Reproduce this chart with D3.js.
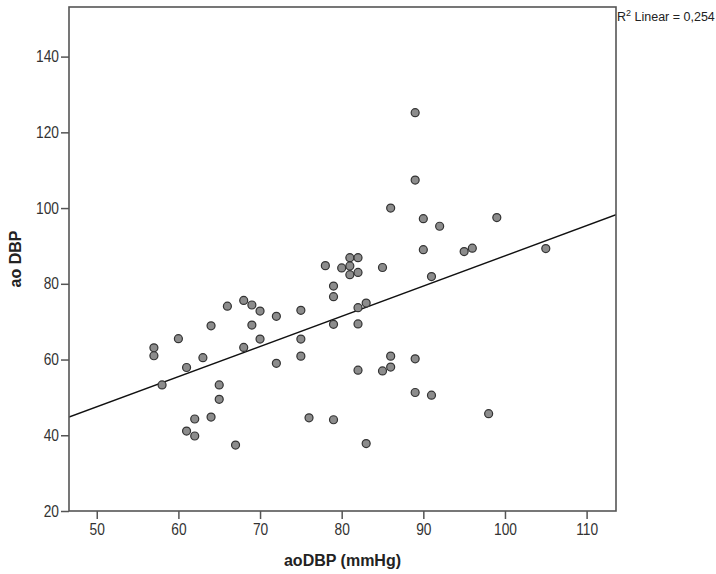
<!DOCTYPE html>
<html>
<head>
<meta charset="utf-8">
<script src="https://cdn.jsdelivr.net/npm/d3@7"></script>
<style>
  body { margin: 0; background: #fff; }
  .tick text { font-family: "Liberation Sans", Arial, sans-serif; font-size: 16px; fill: #333; }
  .tick line { stroke: #555; stroke-width: 1.5; }
</style>
</head>
<body>
<div id="chart"></div>
<script>
// aoDBP (mmHg) vs ao DBP
var xVals = [57, 57, 58, 60, 61, 61, 62, 62, 63, 64, 64, 65, 65, 66, 67, 68, 68, 69, 69, 70, 70,
  72, 72, 75, 75, 75, 76, 78, 79, 79, 79, 79, 80, 81, 81, 81, 82, 82, 82, 82, 82, 83, 83,
  85, 85, 86, 86, 86, 89, 89, 89, 89, 90, 90, 91, 91, 92, 95, 96, 98, 99, 105];
var yVals = [63.1, 61.0, 53.3, 65.5, 57.9, 41.1, 44.3, 39.8, 60.5, 68.9, 44.8, 53.3, 49.5, 74.1, 37.4, 75.6, 63.2, 74.4, 69.1, 72.8, 65.4,
  71.4, 59.0, 73.0, 65.4, 60.9, 44.6, 84.8, 79.4, 76.6, 69.3, 44.1, 84.2, 86.9, 84.7, 82.4, 86.9, 83.0, 73.7, 69.4, 57.2, 74.9, 37.8,
  84.3, 57.0, 100.0, 60.9, 58.0, 125.2, 107.4, 60.2, 51.3, 97.2, 89.0, 81.9, 50.6, 95.2, 88.5, 89.4, 45.7, 97.5, 89.3];
var xTicks = [50, 60, 70, 80, 90, 100, 110];
var yTicks = [20, 40, 60, 80, 100, 120, 140];
var rSquared = "0,254";

var W = 716, H = 574;
var pl = 69, pr = 616, pt = 7, pb = 511;
var narrow = 0.86; // tick labels are drawn condensed

var svg = d3.select("#chart").append("svg").attr("width", W).attr("height", H);

var x = d3.scaleLinear().domain([46.6, 113.6]).range([pl, pr]);
var y = d3.scaleLinear().domain([20, 153.1]).range([pb, pt]);

var pts = xVals.map(function(v, i) { return {x: v, y: yVals[i]}; });

// least squares fit line
var mx = d3.mean(xVals), my = d3.mean(yVals);
var sxy = d3.sum(pts, function(d) { return (d.x - mx) * (d.y - my); });
var sxx = d3.sum(pts, function(d) { return (d.x - mx) * (d.x - mx); });
var slope = sxy / sxx, icpt = my - slope * mx;

var gx = svg.append("g").attr("transform", "translate(0," + pb + ")")
  .call(d3.axisBottom(x).tickValues(xTicks).tickSize(8).tickPadding(5));
gx.select(".domain").remove();
gx.selectAll(".tick text").attr("transform", "scale(" + narrow + ",1)");

var gy = svg.append("g").attr("transform", "translate(" + pl + ",0)")
  .call(d3.axisLeft(y).tickValues(yTicks).tickSize(8).tickPadding(2));
gy.select(".domain").remove();
gy.selectAll(".tick text").attr("x", -10 / narrow).attr("transform", "scale(" + narrow + ",1)");

svg.append("clipPath").attr("id", "clip").append("rect")
  .attr("x", pl).attr("y", pt).attr("width", pr - pl).attr("height", pb - pt);

var xd = x.domain();
svg.append("line")
  .attr("clip-path", "url(#clip)")
  .attr("x1", x(xd[0])).attr("y1", y(icpt + slope * xd[0]))
  .attr("x2", x(xd[1])).attr("y2", y(icpt + slope * xd[1]))
  .attr("stroke", "#111").attr("stroke-width", 1.4);

svg.selectAll("circle.pt").data(pts).enter().append("circle")
  .attr("class", "pt")
  .attr("cx", function(d) { return x(d.x); })
  .attr("cy", function(d) { return y(d.y); })
  .attr("r", 4)
  .attr("fill", "#8c8c8c")
  .attr("stroke", "#333")
  .attr("stroke-width", 1.2);

svg.append("rect")
  .attr("x", pl).attr("y", pt).attr("width", pr - pl).attr("height", pb - pt)
  .attr("fill", "none").attr("stroke", "#555").attr("stroke-width", 1.6);

svg.append("text")
  .attr("x", (pl + pr) / 2).attr("y", 566)
  .attr("text-anchor", "middle")
  .style("font-family", "Liberation Sans, Arial, sans-serif").style("font-size", "16px").style("font-weight", "bold").style("fill", "#222")
  .text("aoDBP (mmHg)");

svg.append("text")
  .attr("transform", "translate(21," + ((pt + pb) / 2) + ") rotate(-90)")
  .attr("text-anchor", "middle")
  .style("font-family", "Liberation Sans, Arial, sans-serif").style("font-size", "16px").style("font-weight", "bold").style("fill", "#222")
  .text("ao DBP");

var r2 = svg.append("text")
  .attr("x", pr + 1).attr("y", 21)
  .style("font-family", "Liberation Sans, Arial, sans-serif").style("font-size", "12.5px").style("fill", "#222");
r2.append("tspan").text("R");
r2.append("tspan").attr("dy", -5).style("font-size", "9px").text("2");
r2.append("tspan").attr("dy", 5).text(" Linear = " + rSquared);
</script>
</body>
</html>
